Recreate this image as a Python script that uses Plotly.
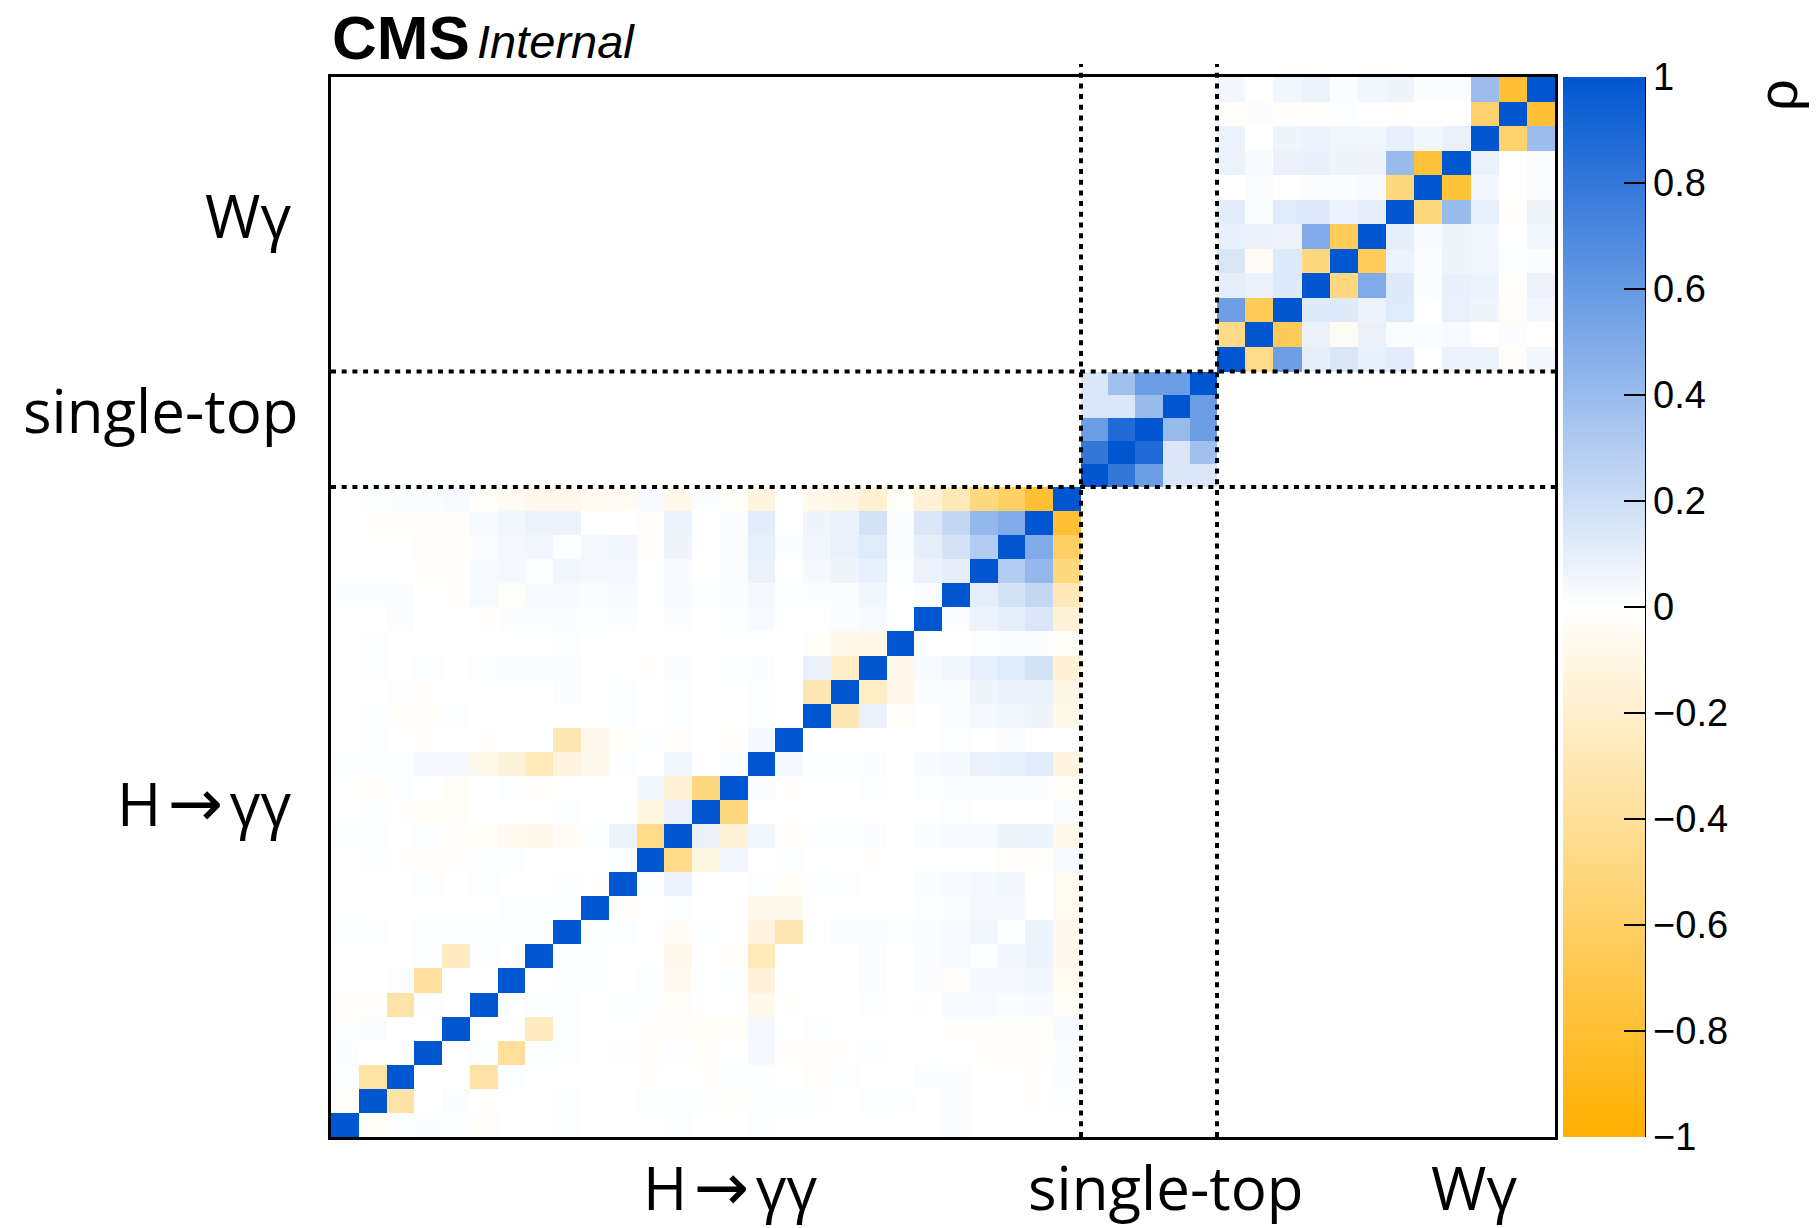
import plotly.graph_objects as go

# ---------------------------------------------------------------------------
# Correlation matrix of the measured bins for the three analyses.
# Each block is stored as its strictly lower triangle (row i holds rho(i, j)
# for j < i); the diagonal is 1 and the blocks are symmetric.
# ---------------------------------------------------------------------------
block_names = ["H\u2192\u03b3\u03b3", "single-top", "W\u03b3"]
block_sizes = [27, 5, 12]

hgg_lower = [
    [],
    [-0.03],
    [0.01, -0.35],
    [0.02, 0.0, 0.0],
    [0.01, 0.02, 0.0, 0.0],
    [-0.02, -0.01, -0.35, 0.01, 0.0],
    [0.0, 0.0, 0.01, -0.4, 0.0, 0.0],
    [0.0, 0.0, 0.0, 0.01, -0.25, 0.01, 0.0],
    [0.01, 0.01, 0.0, 0.01, 0.01, 0.01, 0.01, 0.01],
    [0.0, 0.0, 0.0, 0.0, 0.0, 0.0, 0.01, 0.01, 0.01],
    [0.0, 0.0, 0.0, 0.01, 0.0, 0.01, 0.0, 0.0, 0.01, -0.01],
    [0.0, 0.01, -0.01, -0.02, -0.01, 0.01, 0.01, 0.0, 0.0, 0.0, 0.01],
    [0.01, 0.01, 0.0, 0.01, -0.02, -0.03, -0.06, -0.07, -0.04, 0.01, 0.07, -0.47],
    [0.0, 0.01, -0.01, -0.03, -0.03, 0.0, 0.0, 0.0, 0.01, 0.0, 0.0, -0.12, 0.08],
    [0.0, -0.02, 0.01, 0.0, -0.03, 0.0, 0.01, -0.02, 0.0, 0.0, 0.0, 0.05, -0.15, -0.5],
    [0.01, 0.01, 0.01, 0.04, 0.04, -0.08, -0.14, -0.27, -0.13, -0.07, 0.01, 0.0, 0.05,
     0.0, 0.02],
    [0.0, 0.01, 0.0, -0.01, 0.0, -0.01, 0.0, 0.0, -0.3, -0.07, -0.03, 0.01, -0.02,
     0.0, -0.01, 0.04],
    [0.0, 0.01, -0.02, -0.02, 0.01, 0.0, 0.0, 0.0, 0.0, 0.0, 0.01, 0.0, 0.01,
     0.0, 0.0, 0.01, 0.0],
    [0.0, 0.0, 0.01, -0.01, 0.0, 0.0, 0.0, 0.0, 0.02, 0.0, 0.01, 0.0, 0.01,
     0.0, 0.0, 0.01, 0.0, -0.3],
    [0.0, 0.01, 0.0, 0.01, 0.0, 0.01, 0.02, 0.02, 0.02, 0.0, 0.0, -0.01, 0.02,
     0.0, 0.01, 0.02, 0.0, 0.08, -0.22],
    [0.0, 0.01, 0.0, 0.0, 0.0, 0.0, 0.0, 0.0, 0.01, 0.0, 0.0, 0.0, 0.0,
     0.0, 0.0, 0.0, 0.0, -0.03, -0.09, -0.09],
    [0.0, 0.0, 0.02, 0.0, 0.0, -0.01, 0.02, 0.02, 0.02, 0.01, 0.02, 0.0, 0.02,
     0.0, 0.01, 0.03, 0.0, 0.0, 0.02, 0.03, 0.0],
    [0.02, 0.02, 0.02, 0.0, -0.01, 0.03, -0.02, 0.03, 0.03, 0.02, 0.03, 0.0, 0.03,
     0.01, 0.02, 0.04, 0.01, 0.02, 0.02, 0.05, 0.0, 0.02],
    [0.0, 0.0, 0.0, -0.01, -0.01, 0.03, 0.04, 0.01, 0.05, 0.04, 0.04, 0.0, 0.03,
     0.0, 0.02, 0.08, 0.0, 0.04, 0.06, 0.09, 0.01, 0.07, 0.1],
    [0.0, 0.0, 0.0, -0.02, -0.02, 0.02, 0.04, 0.05, 0.01, 0.04, 0.05, -0.02, 0.06,
     0.0, 0.02, 0.09, 0.02, 0.05, 0.08, 0.12, 0.02, 0.1, 0.17, 0.3],
    [0.0, -0.01, -0.01, -0.02, -0.02, 0.03, 0.05, 0.07, 0.07, 0.0, 0.0, -0.02, 0.07,
     0.0, 0.02, 0.11, 0.0, 0.06, 0.08, 0.17, 0.02, 0.14, 0.23, 0.42, 0.5],
    [0.0, 0.01, 0.02, 0.02, 0.03, -0.03, -0.05, -0.07, -0.07, -0.05, -0.05, 0.03, -0.08,
     0.02, -0.03, -0.13, 0.0, -0.08, -0.1, -0.18, -0.03, -0.16, -0.28, -0.5, -0.6, -0.8],
]

single_top_lower = [
    [],
    [0.8],
    [0.58, 0.88],
    [0.14, 0.14, 0.4],
    [0.14, 0.37, 0.58, 0.58],
]

wgamma_lower = [
    [],
    [-0.47],
    [0.57, -0.66],
    [0.1, 0.08, 0.13],
    [0.15, -0.04, 0.13, -0.5],
    [0.09, 0.08, 0.07, 0.5, -0.65],
    [0.11, 0.02, 0.12, 0.13, 0.07, 0.1],
    [0.0, 0.02, 0.0, 0.02, 0.02, 0.03, -0.51],
    [0.07, 0.03, 0.08, 0.09, 0.06, 0.06, 0.4, -0.77],
    [0.07, 0.0, 0.06, 0.07, 0.05, 0.05, 0.09, 0.05, 0.08],
    [-0.02, 0.02, -0.02, -0.01, 0.01, 0.0, -0.01, 0.0, 0.0, -0.57],
    [0.05, 0.0, 0.05, 0.07, 0.02, 0.05, 0.06, 0.02, 0.02, 0.39, -0.8],
]

colorbar_ticks = [-1.0, -0.8, -0.6, -0.4, -0.2, 0.0, 0.2, 0.4, 0.6, 0.8, 1.0]
colorbar_labels = ["\u22121", "\u22120.8", "\u22120.6", "\u22120.4", "\u22120.2",
                   "0", "0.2", "0.4", "0.6", "0.8", "1"]

# ---------------------------------------------------------------------------
# Assemble the block-diagonal matrix (cells outside the blocks stay empty)
# ---------------------------------------------------------------------------
n_bins = sum(block_sizes)
z = [[None] * n_bins for _ in range(n_bins)]
offset = 0
for lower, size in zip([hgg_lower, single_top_lower, wgamma_lower], block_sizes):
    for i in range(size):
        z[offset + i][offset + i] = 1.0
        for j, val in enumerate(lower[i]):
            z[offset + i][offset + j] = val
            z[offset + j][offset + i] = val
    offset += size

# ---------------------------------------------------------------------------
# Page geometry (pixels)
# ---------------------------------------------------------------------------
FIG_W, FIG_H = 1820, 1228
PL, PR, PT, PB = 331, 1555, 77, 1137      # plot frame
CB_LEFT, CB_W = 1563, 82                  # colour bar
BLOCK_X = [PL, 1081, 1217, PR]            # block boundaries along x
BLOCK_Y = [PB, 487, 371.5, PT]            # block boundaries along y


def xp(px):
    return (px - PL) / (PR - PL)


def yp(py):
    return (PB - py) / (PB - PT)


def bin_edges(bounds, conv):
    edges = []
    for b, size in enumerate(block_sizes):
        for k in range(size):
            edges.append(conv(bounds[b] + (bounds[b + 1] - bounds[b]) * k / size))
    edges.append(conv(bounds[-1]))
    return edges


x_edges = bin_edges(BLOCK_X, xp)
y_edges = bin_edges(BLOCK_Y, yp)

blue = "rgb(0,86,208)"
orange = "rgb(255,176,0)"
colorscale = [[0.0, orange], [0.5, "rgb(255,255,255)"], [1.0, blue]]

heat = go.Heatmap(
    z=z,
    x=x_edges,
    y=y_edges,
    zmin=-1, zmax=1,
    colorscale=colorscale,
    hoverongaps=False,
    colorbar=dict(
        x=xp(CB_LEFT), xanchor="left", xpad=0,
        y=0.5, yanchor="middle", ypad=0,
        thicknessmode="pixels", thickness=CB_W,
        lenmode="pixels", len=PB - PT,
        outlinewidth=0,
        tickmode="array", tickvals=colorbar_ticks, ticktext=colorbar_labels,
        ticks="inside", ticklen=21, tickwidth=2, tickcolor="black",
        tickfont=dict(family="Liberation Sans, Arial, sans-serif", size=38, color="black"),
    ),
)

fig = go.Figure(heat)

axis_style = dict(
    range=[0, 1],
    showticklabels=False, ticks="", showgrid=False, zeroline=False,
    showline=True, mirror=True, linecolor="black", linewidth=2.5,
)

# dotted separators between the analyses
shapes = []
dot = dict(color="black", width=4, dash="5px,5.7px")
for bx, by in zip(BLOCK_X[1:-1], BLOCK_Y[1:-1]):
    shapes.append(dict(type="line", xref="paper", yref="paper",
                       x0=xp(bx), x1=xp(bx), y0=0, y1=yp(PT - 13), line=dot))
    shapes.append(dict(type="line", xref="paper", yref="paper",
                       x0=0, x1=1, y0=yp(by), y1=yp(by), line=dot))
# colour-bar axis line
shapes.append(dict(type="line", xref="paper", yref="paper",
                   x0=xp(CB_LEFT + CB_W), x1=xp(CB_LEFT + CB_W), y0=0, y1=1,
                   line=dict(color="black", width=2)))

label_font = dict(family="Open Sans, Noto Sans, sans-serif", size=60, color="black")
arrow_span = ('<span style="font-family:DejaVu Sans;font-size:66px">'
              '\u200a\u2192\u200a</span>')


def rich(name):
    return name.replace("\u2192", arrow_span)


annotations = []

# analysis labels: left side and below the frame
left_pos = [(204, 803), (160.5, 410), (247.5, 215)]
bottom_pos = [(729.5, 1187), (1165.5, 1187), (1474, 1187)]
for name, (lx, ly), (bx, by) in zip(block_names, left_pos, bottom_pos):
    annotations.append(dict(text=rich(name), xref="paper", yref="paper", x=xp(lx), y=yp(ly),
                            xanchor="center", yanchor="middle", showarrow=False,
                            font=label_font))
    annotations.append(dict(text=rich(name), xref="paper", yref="paper", x=xp(bx), y=yp(by),
                            xanchor="center", yanchor="middle", showarrow=False,
                            font=label_font))

# experiment label
annotations.append(dict(text="<b>CMS</b>", xref="paper", yref="paper",
                        x=xp(400.5), y=yp(37), xanchor="center", yanchor="middle",
                        showarrow=False,
                        font=dict(family="Liberation Sans, Arial, sans-serif", size=62,
                                  color="black")))
annotations.append(dict(text="<i>Internal</i>", xref="paper", yref="paper",
                        x=xp(556), y=yp(41), xanchor="center", yanchor="middle",
                        showarrow=False,
                        font=dict(family="Liberation Sans, Arial, sans-serif", size=47,
                                  color="black")))

# colour-bar title
annotations.append(dict(text="\u03c1", xref="paper", yref="paper",
                        x=xp(1777), y=yp(95), xanchor="center", yanchor="middle",
                        textangle=-90, showarrow=False,
                        font=dict(family="Liberation Sans, Arial, sans-serif", size=56,
                                  color="black")))

fig.update_layout(
    width=FIG_W, height=FIG_H,
    margin=dict(l=PL, r=FIG_W - PR, t=PT, b=FIG_H - PB, pad=0),
    paper_bgcolor="white", plot_bgcolor="white",
    xaxis=axis_style, yaxis=axis_style,
    shapes=shapes, annotations=annotations,
    showlegend=False,
)

fig.write_html("out.html")
